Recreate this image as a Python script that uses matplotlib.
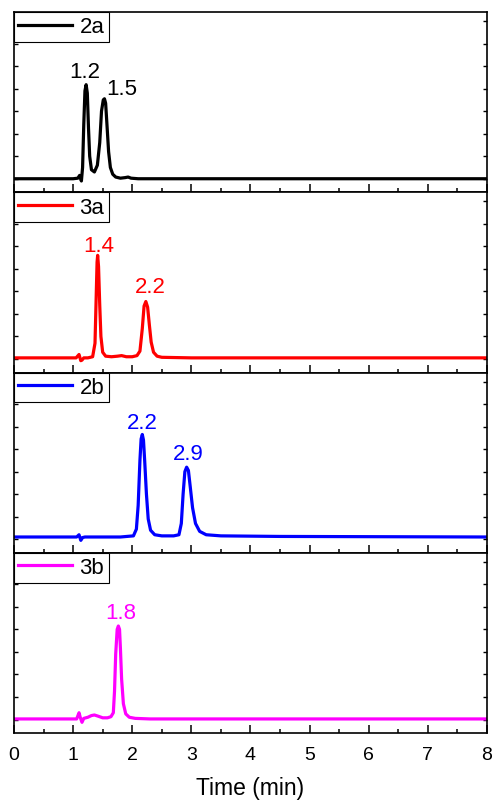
import matplotlib
matplotlib.use("Agg")
import matplotlib.pyplot as plt
from matplotlib.ticker import MultipleLocator, NullFormatter

plt.rcParams['font.family'] = ['Liberation Sans', 'DejaVu Sans']

# retention time (min) and detector signal (a.u.)
t_2a = [0, 1.0, 1.08, 1.11, 1.14, 1.16, 1.18, 1.20, 1.22, 1.24, 1.26, 1.28, 1.31, 1.36,
        1.41, 1.45, 1.48, 1.51, 1.53, 1.55, 1.57, 1.60, 1.63, 1.67, 1.72, 1.80, 1.88,
        1.93, 1.98, 2.1, 8.0]
y_2a = [0, 0, 0.5, 3, -2, 10, 48, 78, 83.5, 76, 45, 20, 8, 6,
        12, 32, 60, 70, 71, 67, 50, 24, 10, 4, 1.5, 0.5, 1,
        1.5, 0.5, 0, 0]

t_3a = [0, 1.05, 1.10, 1.13, 1.15, 1.18, 1.25, 1.33, 1.37, 1.39, 1.405, 1.415, 1.43,
        1.45, 1.47, 1.50, 1.55, 1.65, 1.75, 1.82, 1.90, 2.0, 2.08, 2.13, 2.17, 2.20,
        2.23, 2.26, 2.29, 2.32, 2.36, 2.42, 2.5, 3.0, 8.0]
y_3a = [1, 1, 4, -1.5, -1, 1, 1, 2, 14, 55, 86, 92, 82,
        48, 20, 6, 2.5, 2, 2.5, 3, 2, 2, 3, 7, 27, 47,
        51, 46, 30, 15, 6, 2.5, 1.5, 1, 1]

t_2b = [0, 1.06, 1.10, 1.13, 1.16, 1.2, 1.8, 2.02, 2.07, 2.10, 2.13, 2.15, 2.17, 2.19,
        2.21, 2.24, 2.27, 2.31, 2.38, 2.5, 2.7, 2.79, 2.83, 2.86, 2.89, 2.92, 2.95,
        2.98, 3.02, 3.07, 3.14, 3.25, 3.5, 4.5, 8.0]
y_2b = [2, 2, 4, -1, 1.5, 2, 2, 3, 9, 30, 70, 89, 93, 88,
        70, 40, 18, 8, 4, 3, 3, 4, 14, 40, 60, 64, 61,
        47, 28, 14, 7, 4, 3, 2.5, 2]

t_3b = [0, 1.06, 1.10, 1.12, 1.15, 1.18, 1.25, 1.31, 1.36, 1.42, 1.5, 1.58, 1.64, 1.68,
        1.70, 1.72, 1.745, 1.765, 1.785, 1.80, 1.82, 1.85, 1.89, 1.95, 2.05, 2.3, 8.0]
y_3b = [0.5, 0.5, 6, 2, -2.5, 1, 2, 3.5, 4, 3, 1.5, 1.5, 2.5, 6,
        25, 58, 80, 83, 80, 63, 36, 14, 5, 2, 1, 0.5, 0.5]

names = ['2a', '3a', '2b', '3b']
colors = ['black', '#ff0000', '#0000ff', '#ff00ff']
traces = [(t_2a, y_2a), (t_3a, y_3a), (t_2b, y_2b), (t_3b, y_3b)]

# peak labels: (text, x, y)
peak_labels = [
    [('1.2', 1.19, 95), ('1.5', 1.83, 80)],
    [('1.4', 1.435, 101), ('2.2', 2.31, 64)],
    [('2.2', 2.17, 104), ('2.9', 2.94, 76)],
    [('1.8', 1.81, 95)],
]

fig, axes = plt.subplots(4, 1, sharex=True, figsize=(4.93, 8.03), dpi=100)
plt.subplots_adjust(left=0.0284, right=0.9878, top=0.9838, bottom=0.0859, hspace=0)

for ax, name, c, (t, y), labs in zip(axes, names, colors, traces, peak_labels):
    ax.plot(t, y, color=c, lw=2.3, label=name, solid_joinstyle='round')
    for txt, lx, ly in labs:
        ax.text(lx, ly, txt, color=c, fontsize=16, ha='center', va='center')
    ax.set_xlim(0, 8)
    ax.set_ylim(-12, 148)
    ax.yaxis.set_major_locator(MultipleLocator(20))
    ax.yaxis.set_major_formatter(NullFormatter())
    ax.xaxis.set_major_locator(MultipleLocator(1))
    ax.xaxis.set_minor_locator(MultipleLocator(0.5))
    ax.tick_params(axis='y', which='both', direction='in', left=True, right=True,
                   length=3, width=1)
    ax.tick_params(axis='x', which='major', direction='in', top=False, length=6,
                   width=1.1, labelsize=14, pad=9)
    ax.tick_params(axis='x', which='minor', direction='in', top=False, length=3,
                   width=1.1)
    for s in ax.spines.values():
        s.set_linewidth(1.2)
    leg = ax.legend(loc='upper left', borderaxespad=0, fancybox=False,
                    edgecolor='black', framealpha=1, fontsize=16, handlelength=2.4,
                    handletextpad=0.35, borderpad=0.2)
    leg.get_frame().set_linewidth(0.8)

axes[-1].set_xlabel('Time (min)', fontsize=16.5, labelpad=10)

plt.savefig('out.png', dpi=100)
